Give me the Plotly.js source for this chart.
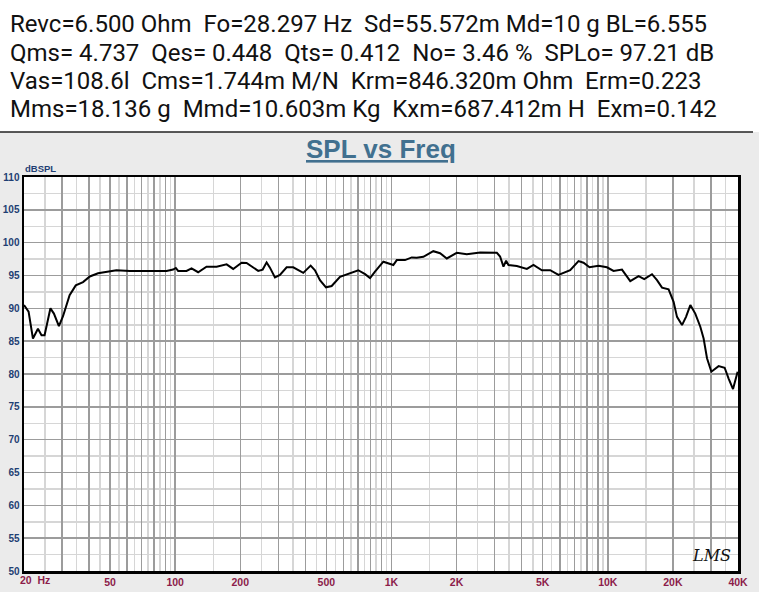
<!DOCTYPE html>
<html>
<head>
<meta charset="utf-8">
<script src="https://cdn.plot.ly/plotly-3.0.1.min.js"></script>
<style>
  body { margin: 0; background: #ebebeb; }
  #chart { width: 759px; height: 592px; }
</style>
</head>
<body>
<div id="chart"></div>
<script>
// readings (Hz, dB SPL)
var freq = [20, 21, 22, 23.2, 24.1, 24.9, 26.5, 27.5, 29, 30.3, 32.5, 34.7, 37.5, 40.3, 44,
  53.5, 61.7, 82, 91.2, 97.8, 100.7, 103.2, 112.8, 119, 127.7, 139.6, 155.4, 172.9, 185.4,
  202.8, 213.8, 242, 253.8, 264.7, 274.2, 289.2, 305, 327.6, 351.4, 391, 423, 442.9, 467,
  498, 529, 578, 643, 702, 755, 796, 839, 917, 1020, 1058, 1155, 1241, 1308, 1404, 1561,
  1677, 1802, 2004, 2230, 2570, 3070, 3178, 3294, 3388, 3474, 3798, 4226, 4534, 4960, 5418,
  5918, 6702, 7322, 7724, 8232, 9064, 9910, 10632, 11632, 12706, 13878, 14748, 16012, 16888,
  17814, 19106, 20152, 20894, 22040, 23000, 24080, 25380, 26780, 27740, 28760, 30120, 32540,
  34700, 36200, 37940, 39840];
var spl = [90.5, 89.5, 85.4, 86.9, 85.9, 85.9, 90.0, 89.2, 87.3, 88.8, 92.0, 93.5, 94.0, 94.85, 95.35,
  95.8, 95.7, 95.7, 95.7, 95.9, 96.15, 95.7, 95.7, 96.1, 95.5, 96.35, 96.35, 96.7, 96.0,
  96.95, 96.9, 95.7, 95.9, 97.0, 96.2, 94.7, 95.1, 96.25, 96.25, 95.4, 96.5, 95.8, 94.3,
  93.2, 93.4, 94.8, 95.3, 95.8, 95.2, 94.6, 95.6, 97.1, 96.6, 97.35, 97.35, 97.75, 97.7, 97.85, 98.7,
  98.4, 97.6, 98.45, 98.25, 98.5, 98.45, 97.9, 96.35, 97.25, 96.6, 96.45, 96.0, 96.6, 95.8, 95.8,
  95.1, 95.8, 97.2, 96.95, 96.25, 96.5, 96.25, 95.7, 95.9, 94.15, 94.9, 94.45, 95.2, 94.3,
  93.15, 92.9, 91.0, 88.7, 87.45, 88.7, 90.5, 89.2, 87.2, 85.4, 82.4, 80.35, 81.2,
  80.95, 79.3, 77.7, 80.35];

var xLabels = {50: '50', 100: '100', 200: '200', 500: '500', 1000: '1K', 2000: '2K',
  5000: '5K', 10000: '10K', 20000: '20K', 40000: '40K'};
var yTicks = [50, 55, 60, 65, 70, 75, 80, 85, 90, 95, 100, 105, 110];
var headerLines = [
  'Revc=6.500 Ohm  Fo=28.297 Hz  Sd=55.572m Md=10 g BL=6.555',
  'Qms= 4.737  Qes= 0.448  Qts= 0.412  No= 3.46 %  SPLo= 97.21 dB',
  'Vas=108.6l  Cms=1.744m M/N  Krm=846.320m Ohm  Erm=0.223',
  'Mms=18.136 g  Mmd=10.603m Kg  Kxm=687.412m H  Exm=0.142'
];

// gridlines: dark at 1..9 x decade, light at the half steps
var majorVals = [], majorText = [], minorVals = [];
[10, 100, 1000, 10000].forEach(function (dec) {
  for (var m = 1; m <= 9; m++) {
    var v = m * dec;
    if (v >= 20 && v <= 40000) { majorVals.push(v); majorText.push(xLabels[v] ? '<b>' + xLabels[v] + '</b>' : ''); }
    var h = (m + 0.5) * dec;
    if (h > 20 && h < 40000) minorVals.push(h);
  }
});
majorVals.push(40000); majorText.push('<b>40K</b>');

var W = 714, H = 394, L = 24, T = 177;
function px(x) { return (x - L) / W; }
function py(y) { return 1 + (T - y) / H; }

var ann = [];
var rowY = [24.3, 52.7, 81, 109.3];
headerLines.forEach(function (s, i) {
  ann.push({ text: s.replace(/ /g, '\u00a0'), xref: 'paper', yref: 'paper', x: px(8), y: py(rowY[i]),
    xanchor: 'left', yanchor: 'middle', showarrow: false,
    font: { family: 'Roboto, Noto Sans, sans-serif', size: 24, color: '#111' } });
});
ann.push({ text: '<b><u>SPL vs Freq</u></b>', xref: 'paper', yref: 'paper', x: px(381), y: py(149),
  xanchor: 'center', yanchor: 'middle', showarrow: false,
  font: { family: 'Liberation Sans, Arial, sans-serif', size: 26, color: '#41708f' } });
ann.push({ text: '<b>dBSPL</b>', xref: 'paper', yref: 'paper', x: px(23), y: py(168),
  xanchor: 'left', yanchor: 'middle', showarrow: false,
  font: { family: 'Liberation Sans, Arial, sans-serif', size: 9.5, color: '#1f3f73' } });
ann.push({ text: '<b>20\u00a0\u00a0Hz</b>', xref: 'paper', yref: 'paper', x: px(35), y: py(580),
  xanchor: 'center', yanchor: 'middle', showarrow: false,
  font: { family: 'Liberation Sans, Arial, sans-serif', size: 10.5, color: '#8c1c4a' } });
ann.push({ text: '<i>LMS</i>', xref: 'paper', yref: 'paper', x: px(711), y: py(555),
  xanchor: 'center', yanchor: 'middle', showarrow: false,
  font: { family: 'DejaVu Serif, serif', size: 16, color: '#111' } });

var trace = {
  x: freq, y: spl, type: 'scatter', mode: 'lines',
  line: { color: '#000', width: 2 }, hoverinfo: 'skip'
};

var layout = {
  width: 759, height: 592,
  margin: { l: L, r: 759 - L - W, t: T, b: 592 - T - H, pad: 0 },
  paper_bgcolor: '#ebebeb', plot_bgcolor: '#fff',
  showlegend: false,
  xaxis: {
    type: 'log', range: [Math.log10(20), Math.log10(40000)],
    tickmode: 'array', tickvals: majorVals, ticktext: majorText,
    showgrid: true, gridcolor: '#9c9c9c', gridwidth: 1.5,
    minor: { tickmode: 'array', tickvals: minorVals, showgrid: true, gridcolor: '#d6d6d6', gridwidth: 1.5 },
    showline: true, mirror: true, linecolor: '#000', linewidth: 2.5,
    ticks: '', zeroline: false,
    tickfont: { family: 'Liberation Sans, Arial, sans-serif', size: 10.5, color: '#8c1c4a' }
  },
  yaxis: {
    range: [50, 110], tickmode: 'array', tickvals: yTicks,
    ticktext: yTicks.map(function (v) { return '<b>' + v + '</b>'; }),
    showgrid: true, gridcolor: '#9c9c9c', gridwidth: 1.5,
    minor: { tick0: 50, dtick: 2.5, showgrid: true, gridcolor: '#d6d6d6', gridwidth: 1.5 },
    showline: true, mirror: true, linecolor: '#000', linewidth: 2.5,
    ticks: '', zeroline: false,
    tickfont: { family: 'Liberation Sans, Arial, sans-serif', size: 10, color: '#1f3f73' }
  },
  shapes: [
    { type: 'rect', xref: 'paper', yref: 'paper', x0: -0.05, x1: 1.05, y0: py(132), y1: 1.6,
      fillcolor: '#fff', line: { width: 0 }, layer: 'below' },
    { type: 'line', xref: 'paper', yref: 'paper', x0: px(0), x1: px(753), y0: py(132), y1: py(132),
      line: { color: '#222', width: 1.5 } }
  ],
  annotations: ann
};

Plotly.newPlot('chart', [trace], layout, { displayModeBar: false, staticPlot: true });
</script>
</body>
</html>
